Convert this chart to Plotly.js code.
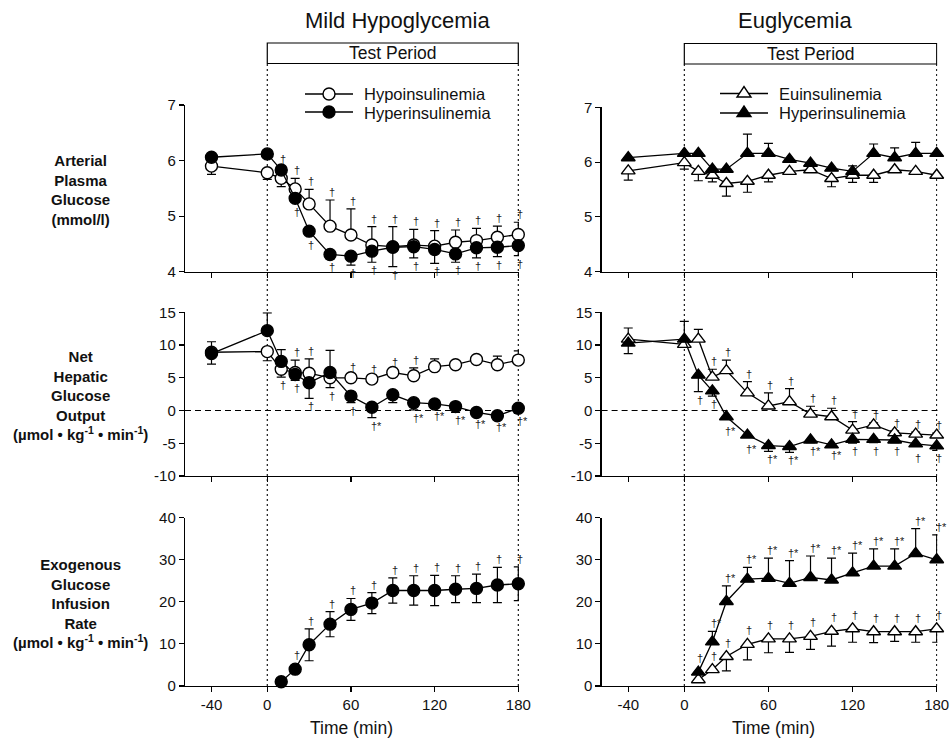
<!DOCTYPE html>
<html><head><meta charset="utf-8">
<script src="https://cdn.plot.ly/plotly-3.0.1.min.js"></script>
<style>html,body{margin:0;padding:0;background:#fff}#chart{width:950px;height:742px}</style>
</head><body><div id="chart"></div>
<script>
// ---------- DATA ----------
const times = [-40, 0, 10, 20, 30, 45, 60, 75, 90, 105, 120, 135, 150, 165, 180];
const xTickVals = [-40, 0, 60, 120, 180];
const xTickText = ['-40', '0', '60', '120', '180'];
const testStart = 0, testEnd = 180;

// Mild hypoglycemia – arterial plasma glucose (mmol/l)
const hypoGlu     = [5.90, 5.78, 5.68, 5.49, 5.22, 4.82, 4.66, 4.48, 4.45, 4.48, 4.46, 4.53, 4.56, 4.62, 4.67];
const hypoGluUp   = [0, 0, 0, 0.19, 0.26, 0.47, 0.47, 0.33, 0.36, 0.28, 0.28, 0.22, 0.22, 0.20, 0.22];
const hypoGluDn   = [0.15, 0.12, 0.15, 0, 0, 0, 0, 0, 0, 0, 0, 0, 0, 0, 0];
const hypoGluSig  = ['', '', '', '†', '†', '†', '†', '†', '†', '†', '†', '†', '†', '†', '†'];
const hyperGlu    = [6.06, 6.12, 5.83, 5.32, 4.73, 4.31, 4.28, 4.37, 4.44, 4.45, 4.40, 4.32, 4.43, 4.44, 4.47];
const hyperGluUp  = [0, 0, 0.05, 0, 0, 0, 0, 0, 0, 0, 0, 0, 0, 0, 0];
const hyperGluDn  = [0, 0, 0, 0, 0, 0.08, 0.16, 0.2, 0.35, 0.2, 0.25, 0.15, 0.18, 0.17, 0.18];
const hyperGluSig = ['', '', '†', '†', '†', '†', '†', '†', '†', '†', '†', '†', '†', '†', '†'];

// Euglycemia – arterial plasma glucose
const euGlu       = [5.84, 5.99, 5.83, 5.76, 5.61, 5.65, 5.76, 5.83, 5.86, 5.70, 5.76, 5.76, 5.86, 5.83, 5.76];
const euGluDn     = [0.17, 0.12, 0.17, 0.12, 0.23, 0.2, 0.12, 0, 0, 0.15, 0.13, 0.13, 0, 0, 0];
const hyperGluE   = [6.08, 6.16, 6.16, 5.87, 5.87, 6.16, 6.16, 6.05, 5.98, 5.89, 5.83, 6.16, 6.08, 6.16, 6.16];
const hyperGluEUp = [0, 0, 0, 0, 0, 0.35, 0.18, 0, 0, 0, 0.1, 0.17, 0.18, 0.2, 0];

// Mild hypoglycemia – net hepatic glucose output
const hypoNHGO     = [8.9, 9.0, 6.3, 5.8, 5.7, 5.0, 5.0, 4.8, 5.8, 5.3, 6.7, 7.0, 7.8, 7.0, 7.7];
const hypoNHGOUp   = [1.6, 0, 0, 1.9, 2.2, 0, 0.4, 0.3, 0.4, 1.2, 1.2, 0, 0, 1.3, 1.4];
const hypoNHGODn   = [0, 1.4, 1.2, 0, 0, 1.5, 0, 0, 0, 0, 0, 0, 0, 0, 0];
const hypoNHGOSig  = ['', '', '†', '†', '†', '†', '†', '†', '†', '†', '', '', '', '', ''];
const hyperNHGO    = [8.7, 12.2, 7.5, 5.5, 4.25, 5.8, 2.2, 0.5, 2.4, 1.2, 1.0, 0.6, -0.3, -0.8, 0.35];
const hyperNHGOUp  = [0, 2.7, 1.8, 0, 0, 3.4, 0, 0, 0, 0, 0, 0, 0, 0, 0];
const hyperNHGODn  = [1.6, 0, 0, 0.9, 2.4, 0, 1.0, 1.6, 1.2, 1.1, 0.6, 0.9, 0.5, 0.5, 0.8];
const hyperNHGOSig = ['', '', '', '†', '†', '', '†', '†*', '', '†*', '†*', '†*', '†*', '†*', '†*'];

// Euglycemia – net hepatic glucose output
const euNHGO        = [10.9, 10.1, 10.9, 5.1, 6.1, 2.7, 0.7, 1.35, -0.55, -0.95, -3.0, -2.2, -3.4, -3.6, -3.75];
const euNHGOUp      = [1.7, 0, 1.5, 1.2, 1.6, 1.7, 2.0, 2.0, 1.2, 1.3, 1.3, 0.3, 0.3, 0.3, 0.3];
const euNHGOSig     = ['', '', '', '†', '†', '†', '†', '†', '†', '†', '†', '†', '†', '†', '†'];
const hyperNHGOe    = [10.3, 10.9, 5.4, 3.0, -0.95, -3.75, -5.35, -5.5, -4.5, -5.25, -4.4, -4.4, -4.5, -5.1, -5.4];
const hyperNHGOeUp  = [0, 2.7, 0, 0, 0, 0, 0, 0, 0, 0, 0, 0, 0, 0, 0];
const hyperNHGOeDn  = [1.6, 0, 2.5, 0.8, 0, 0, 0.9, 0.9, 0.4, 0.3, 0.6, 0.5, 0.4, 0, 0.7];
const hyperNHGOeSig = ['', '', '†', '†', '†*', '†*', '†*', '†*', '†*', '†*', '†', '†', '†', '†', '†'];

// Mild hypoglycemia – exogenous glucose infusion rate
const hyperGIR    = [null, null, 1.0, 4.0, 9.8, 14.7, 18.2, 19.7, 22.7, 22.7, 22.7, 23.0, 23.2, 24.0, 24.3];
const hyperGIRErr = [null, null, 0, 0, 3.8, 3.0, 2.6, 2.5, 3.0, 3.5, 3.6, 3.2, 3.4, 4.2, 4.0];
const hyperGIRSig = ['', '', '', '†', '†', '†', '†', '†', '†', '†', '†', '†', '†', '†', '†'];

// Euglycemia – exogenous glucose infusion rate
const euGIR        = [null, null, 1.5, 3.9, 7.0, 9.9, 11.2, 11.2, 11.8, 13.0, 13.6, 12.9, 12.9, 12.9, 13.6];
const euGIRDn      = [null, null, 0, 0, 3.4, 3.7, 3.3, 3.2, 3.1, 3.5, 3.2, 2.6, 2.3, 2.5, 3.2];
const euGIRSig     = ['', '', '', '†', '†', '†', '†', '†', '†', '†', '†', '†', '†', '†', '†'];
const hyperGIRe    = [null, null, 3.3, 10.5, 20.1, 25.4, 25.6, 24.4, 25.8, 25.2, 26.9, 28.5, 28.5, 31.5, 30.0];
const hyperGIReUp  = [null, null, 0, 2.5, 3.7, 2.8, 4.8, 5.4, 5.1, 5.2, 4.7, 4.1, 4.1, 5.9, 5.9];
const hyperGIReSig = ['', '', '†', '†*', '†*', '†*', '†*', '†*', '†*', '†*', '†*', '†*', '†*', '†*', '†*'];

// ---------- BUILD ----------
const FONT = 'Liberation Sans, Arial, Helvetica, sans-serif';
const zeros = times.map(() => 0);
const W = 950, H = 742;
const px = v => v / W, py = v => 1 - v / H;

const series = [
  {xa:'x',  ya:'y',  y:hypoGlu,   up:hypoGluUp,   dn:hypoGluDn,   sig:hypoGluSig,  sym:'circle', fill:false, def:1},
  {xa:'x',  ya:'y',  y:hyperGlu,  up:hyperGluUp,  dn:hyperGluDn,  sig:hyperGluSig, sym:'circle', fill:true,  def:-1},
  {xa:'x4', ya:'y4', y:euGlu,     up:zeros,       dn:euGluDn,     sig:null, sym:'triangle-up', fill:false, def:-1},
  {xa:'x4', ya:'y4', y:hyperGluE, up:hyperGluEUp, dn:zeros,       sig:null, sym:'triangle-up', fill:true, def:1},
  {xa:'x2', ya:'y2', y:hypoNHGO,  up:hypoNHGOUp,  dn:hypoNHGODn,  sig:hypoNHGOSig,  sym:'circle', fill:false, def:1},
  {xa:'x2', ya:'y2', y:hyperNHGO, up:hyperNHGOUp, dn:hyperNHGODn, sig:hyperNHGOSig, sym:'circle', fill:true, def:-1},
  {xa:'x5', ya:'y5', y:euNHGO,    up:euNHGOUp,    dn:zeros,       sig:euNHGOSig,    sym:'triangle-up', fill:false, def:1},
  {xa:'x5', ya:'y5', y:hyperNHGOe, up:hyperNHGOeUp, dn:hyperNHGOeDn, sig:hyperNHGOeSig, sym:'triangle-up', fill:true, def:-1},
  {xa:'x3', ya:'y3', y:hyperGIR,  up:hyperGIRErr, dn:hyperGIRErr, sig:hyperGIRSig, sym:'circle', fill:true, def:1, side:1},
  {xa:'x6', ya:'y6', y:euGIR,     up:zeros,       dn:euGIRDn,     sig:euGIRSig,    sym:'triangle-up', fill:false, def:1, side:1},
  {xa:'x6', ya:'y6', y:hyperGIRe, up:hyperGIReUp, dn:zeros,       sig:hyperGIReSig, sym:'triangle-up', fill:true, def:1, side:1}
];

const traces = series.map(s => ({
  type:'scatter', mode:'lines+markers', x:times, y:s.y, xaxis:s.xa, yaxis:s.ya,
  cliponaxis:false, showlegend:false, hoverinfo:'skip',
  line:{color:'black', width:1.3},
  marker:{symbol:s.sym, size:12, color:s.fill ? 'black' : 'white',
          line:{color:'black', width:1.4}},
  error_y:{type:'data', symmetric:false, array:s.up, arrayminus:s.dn,
           color:'black', thickness:1.2, width:4.5}
}));

const annotations = [];
series.forEach(s => {
  if (!s.sig) return;
  s.sig.forEach((txt, i) => {
    if (!txt || s.y[i] === null) return;
    const up = s.up[i] || 0, dn = s.dn[i] || 0;
    let side = s.side || (up > 0 ? 1 : (dn > 0 ? -1 : s.def));
    const err = side > 0 ? up : dn;
    annotations.push({
      xref:s.xa, yref:s.ya, x:times[i], y:s.y[i] + (side > 0 ? up : -dn),
      text:txt, showarrow:false, xanchor:'left', yanchor:'middle', xshift:-3,
      yshift: side * (err > 0.001 ? 8 : 14),
      font:{family:FONT, size:11, color:'#222'}
    });
  });
});

function txt(x, y, text, size, opts) {
  annotations.push(Object.assign({xref:'paper', yref:'paper', x:px(x), y:py(y), text:text,
    showarrow:false, xanchor:'center', yanchor:'middle',
    font:{family:FONT, size:size, color:'#111'}}, opts || {}));
}
// Column titles
txt(397, 20, 'Mild Hypoglycemia', 22);
txt(795, 20, 'Euglycemia', 22);
// Test period labels
annotations.push({xref:'x', yref:'paper', x:(testStart + testEnd) / 2, y:py(53), text:'Test Period',
  showarrow:false, xanchor:'center', yanchor:'middle', font:{family:FONT, size:17.5, color:'#111'}});
annotations.push({xref:'x4', yref:'paper', x:(testStart + testEnd) / 2, y:py(53.5), text:'Test Period',
  showarrow:false, xanchor:'center', yanchor:'middle', font:{family:FONT, size:17.5, color:'#111'}});
// Row labels
const units = '(µmol • kg<sup>-1</sup> • min<sup>-1</sup>)';
const bold = {family:FONT, size:15, color:'#111', weight:'bold'};
txt(80, 190, 'Arterial<br>Plasma<br>Glucose<br>(mmol/l)', 15, {font:bold});
txt(80, 395, 'Net<br>Hepatic<br>Glucose<br>Output<br>' + units, 15, {font:bold});
txt(80, 603, 'Exogenous<br>Glucose<br>Infusion<br>Rate<br>' + units, 15, {font:bold});
// X axis titles
txt(351, 728, 'Time (min)', 17.5);
txt(773, 728, 'Time (min)', 17.5);
// Legend texts
txt(362, 94, 'Hypoinsulinemia', 16.5, {xanchor:'left'});
txt(362, 112.5, 'Hyperinsulinemia', 16.5, {xanchor:'left'});
txt(777, 93.5, 'Euinsulinemia', 16.5, {xanchor:'left'});
txt(777, 113, 'Hyperinsulinemia', 16.5, {xanchor:'left'});

// ---------- SHAPES ----------
const shapes = [];
['x', 'x4'].forEach(xa => {
  [testStart, testEnd].forEach(t => shapes.push({type:'line', xref:xa, yref:'paper', x0:t, x1:t,
    y0:py(686), y1:py(63), line:{color:'black', width:1.1, dash:'2px,3px'}, layer:'below'}));
});
shapes.push({type:'rect', xref:'x', yref:'paper', x0:testStart, x1:testEnd, y0:py(63.5), y1:py(43),
  line:{color:'black', width:1.2}, fillcolor:'white'});
shapes.push({type:'rect', xref:'x4', yref:'paper', x0:testStart, x1:testEnd, y0:py(64), y1:py(43.5),
  line:{color:'black', width:1.2}, fillcolor:'white'});
[['x2', 'y2'], ['x5', 'y5']].forEach(([xa, ya]) => shapes.push({type:'line', xref:xa + ' domain', yref:ya,
  x0:0, x1:1, y0:0, y1:0, line:{color:'black', width:1.1, dash:'6px,4px'}, layer:'below'}));

// legend symbols
function legLine(x0, x1, y) {
  shapes.push({type:'line', xref:'paper', yref:'paper', x0:px(x0), x1:px(x1), y0:py(y), y1:py(y),
    line:{color:'black', width:1.3}});
}
function legCircle(x, y, filled) {
  shapes.push({type:'circle', xref:'paper', yref:'paper', xsizemode:'pixel', ysizemode:'pixel',
    xanchor:px(x), yanchor:py(y), x0:-6, x1:6, y0:-6, y1:6,
    fillcolor:filled ? 'black' : 'white', line:{color:'black', width:1.4}});
}
function legTri(x, y, filled) {
  shapes.push({type:'path', xref:'paper', yref:'paper', xsizemode:'pixel', ysizemode:'pixel',
    xanchor:px(x), yanchor:py(y), path:'M-7,-3.5 L7,-3.5 L0,7 Z',
    fillcolor:filled ? 'black' : 'white', line:{color:'black', width:1.4}});
}
legLine(305, 353, 94); legCircle(329, 94, false);
legLine(305, 353, 112); legCircle(329, 112, true);
legLine(720, 768, 93.5); legTri(744, 93.5, false);
legLine(720, 768, 113); legTri(744, 113, true);

// ---------- AXES ----------
const tickFont = {family:FONT, size:15, color:'#111'};
function xax(domain, anchor, labels) {
  return {domain:domain, anchor:anchor, range:[-59, 180.5], showline:true, linecolor:'black', linewidth:1.2,
    ticks:'outside', ticklen:5, tickwidth:1.1, tickcolor:'black', tickmode:'array',
    tickvals:xTickVals, ticktext:xTickText, showticklabels:labels, tickfont:tickFont,
    showgrid:false, zeroline:false, fixedrange:true};
}
function yax(domain, anchor, range, vals) {
  return {domain:domain, anchor:anchor, range:range, showline:true, linecolor:'black', linewidth:1.2,
    ticks:'outside', ticklen:5, tickwidth:1.1, tickcolor:'black', tickmode:'array',
    tickvals:vals, ticktext:vals.map(v => String(v)), tickfont:tickFont,
    showgrid:false, zeroline:false, fixedrange:true};
}
const xL = [185 / W, 519 / W], xR = [601.6 / W, 937.4 / W];
const yTopL = [py(271.7), py(105)], yTopR = [py(271.7), py(107.3)];
const yMid = [py(476), py(312.3)], yBot = [py(686), py(517.7)];
const gluTicks = [4, 5, 6, 7], nhgoTicks = [-10, -5, 0, 5, 10, 15], girTicks = [0, 10, 20, 30, 40];

const layout = {
  width:W, height:H, autosize:false, margin:{l:0, r:0, t:0, b:0},
  paper_bgcolor:'white', plot_bgcolor:'rgba(0,0,0,0)', showlegend:false,
  font:{family:FONT, color:'#111'},
  xaxis:xax(xL, 'y', false),   yaxis:yax(yTopL, 'x', [4, 7], gluTicks),
  xaxis2:xax(xL, 'y2', false), yaxis2:yax(yMid, 'x2', [-10, 15], nhgoTicks),
  xaxis3:xax(xL, 'y3', true),  yaxis3:yax(yBot, 'x3', [0, 40], girTicks),
  xaxis4:xax(xR, 'y4', false), yaxis4:yax(yTopR, 'x4', [4, 7], gluTicks),
  xaxis5:xax(xR, 'y5', false), yaxis5:yax(yMid, 'x5', [-10, 15], nhgoTicks),
  xaxis6:xax(xR, 'y6', true),  yaxis6:yax(yBot, 'x6', [0, 40], girTicks),
  shapes:shapes, annotations:annotations
};

Plotly.newPlot('chart', traces, layout, {staticPlot:true, displayModeBar:false});
</script>
</body></html>
